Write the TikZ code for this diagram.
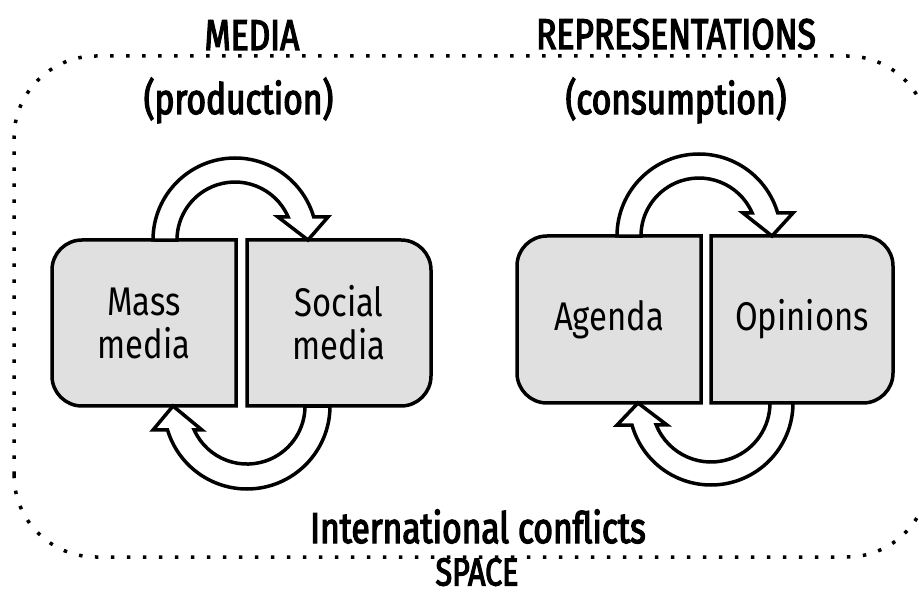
\documentclass[tikz,border=0pt]{standalone}
\usepackage{fontspec}
\setmainfont{Fira Sans}
\newfontfamily\condfont[FakeStretch=0.82]{Fira Sans}
\newfontfamily\headfont[FakeStretch=0.78,FakeBold=3]{Fira Sans}
\usetikzlibrary{backgrounds,calc}
\definecolor{boxgray}{RGB}{224,224,224}
\tikzset{
  boxarea/.style={rectangle, draw=none, outer sep=0pt, inner sep=0pt, align=center,
    font=\condfont\fontsize{40}{43}\selectfont},
  headtext/.style={font=\headfont\fontsize{43}{46}\selectfont, inner sep=0pt, anchor=base},
  boxline/.style={draw=black, line width=3.5pt, fill=boxgray, line join=miter},
  blockarrow/.style={draw=black, line width=3.5pt, fill=white, line join=miter},
  spaceline/.style={line width=3.5pt, dash pattern=on 3.5pt off 12.5pt}
}
\begin{document}
\begin{tikzpicture}[x=1pt,y=1pt]
\useasboundingbox (0,0) rectangle (919,595);
\clip (0,0) rectangle (919,595);
% space border
\draw[spaceline, rounded corners=82pt] (14,38) rectangle (929,539);
% headings
\node[headtext] (media) at (252,545) {MEDIA};
\node[headtext] (prod) at (238.5,481) {(production)};
\node[headtext] (repr) at (676,546) {REPRESENTATIONS};
\node[headtext] (cons) at (676,481) {(consumption)};
\node[headtext] (intl) at (478,52) {International conflicts};
\node[headtext, font=\headfont\fontsize{39}{42}\selectfont] (space) at (477,9.5) {SPACE};
% boxes
\node[boxarea, minimum width=184pt, minimum height=166pt] (mass) at (144,272) {Mass\\media};
\node[boxarea, minimum width=184pt, minimum height=166pt] (social) at (339,272) {Social\\media};
\node[boxarea, minimum width=184pt, minimum height=167pt] (agenda) at (609,275.5) {Agenda};
\node[boxarea, minimum width=182pt, minimum height=167pt] (opinions) at (802,275.5) {Opinions};
\begin{scope}[on background layer]
\draw[boxline] (mass.north east) -- ([xshift=30pt]mass.north west) arc[start angle=90,end angle=180,radius=30pt]
  -- ([yshift=30pt]mass.south west) arc[start angle=180,end angle=270,radius=30pt] -- (mass.south east) -- cycle;
\draw[boxline] (social.north west) -- ([xshift=-30pt]social.north east) arc[start angle=90,end angle=0,radius=30pt]
  -- ([yshift=30pt]social.south east) arc[start angle=0,end angle=-90,radius=30pt] -- (social.south west) -- cycle;
\draw[boxline] (agenda.north east) -- ([xshift=30pt]agenda.north west) arc[start angle=90,end angle=180,radius=30pt]
  -- ([yshift=30pt]agenda.south west) arc[start angle=180,end angle=270,radius=30pt] -- (agenda.south east) -- cycle;
\draw[boxline] (opinions.north west) -- ([xshift=-30pt]opinions.north east) arc[start angle=90,end angle=0,radius=30pt]
  -- ([yshift=30pt]opinions.south east) arc[start angle=0,end angle=-90,radius=30pt] -- (opinions.south west) -- cycle;
\end{scope}
% curved block arrows
\draw[blockarrow] ([xshift=101pt]mass.north west) arc[start angle=180,end angle=16.3,radius=82pt]
  -- ++(14.3,0) -- ([xshift=61pt]social.north west) -- ++(-30,23) -- ++(10.2,0)
  arc[start angle=23.4,end angle=180,radius=58pt] -- cycle;
\draw[blockarrow] ([xshift=-101pt]social.south east) arc[start angle=0,end angle=-163.2,radius=83pt]
  -- ++(-14.55,0) -- ([xshift=121pt]mass.south west) -- ++(29,-24) -- ++(-7.8,0)
  arc[start angle=-155.6,end angle=0,radius=58pt] -- cycle;
\draw[blockarrow] ([xshift=100pt]agenda.north west) arc[start angle=180,end angle=16.3,radius=82pt]
  -- ++(15.3,0) -- ([xshift=61pt]opinions.north west) -- ++(-29,23) -- ++(9.2,0)
  arc[start angle=23.4,end angle=180,radius=58pt] -- cycle;
\draw[blockarrow] ([xshift=-100pt]opinions.south east) arc[start angle=0,end angle=-164.4,radius=82pt]
  -- ++(-15,0) -- ([xshift=121pt]agenda.south west) -- ++(29,-22) -- ++(-10.75,0)
  arc[start angle=-158.1,end angle=0,radius=59pt] -- cycle;
\end{tikzpicture}
\end{document}
